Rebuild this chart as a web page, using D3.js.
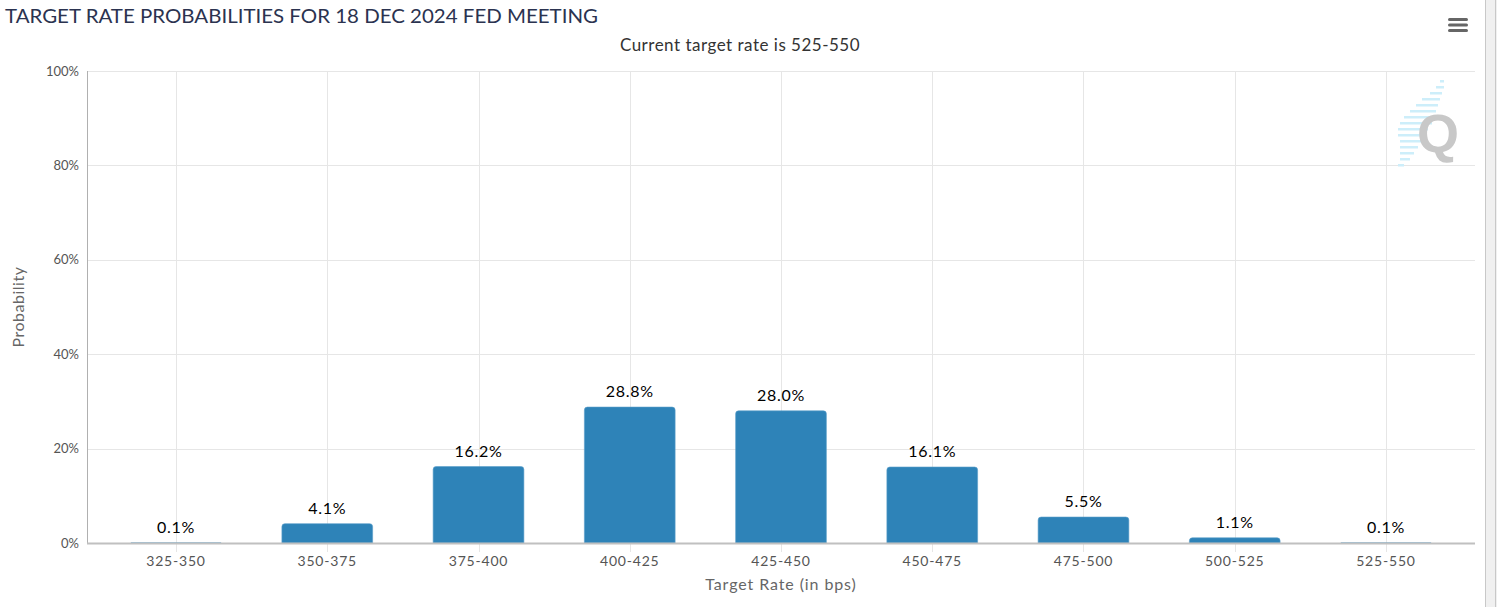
<!DOCTYPE html>
<html>
<head>
<meta charset="utf-8">
<script src="https://cdn.jsdelivr.net/npm/d3@7"></script>
<style>
  html, body { margin: 0; padding: 0; background: #fff; }
  svg { display: block; font-family: Lato, "Open Sans", sans-serif; }
</style>
</head>
<body>
<svg id="chart" width="1497" height="607"></svg>
<script>
'use strict'

const categories = ['325-350', '350-375', '375-400', '400-425', '425-450', '450-475', '475-500', '500-525', '525-550'];
const probabilities = [0.1, 4.1, 16.2, 28.8, 28.0, 16.1, 5.5, 1.1, 0.1];
const yTicks = [0, 20, 40, 60, 80, 100];

const titleText = 'TARGET RATE PROBABILITIES FOR 18 DEC 2024 FED MEETING';
const subtitleText = 'Current target rate is 525-550';

const plot = { left: 87, right: 1475, top: 71, bottom: 543 };

const svg = d3.select('#chart');

const x = d3.scaleBand()
    .domain(categories)
    .range([100.4, 1461.6])
    .paddingInner(0.4)
    .paddingOuter(0.2);

const y = d3.scaleLinear().domain([0, 100]).range([plot.bottom, plot.top]);

// scrollbar strip on the right
svg.append('rect').attr('x', 1485).attr('y', 0).attr('width', 12).attr('height', 607)
    .attr('fill', '#f0f0f0');
svg.append('line').attr('x1', 1485.5).attr('x2', 1485.5).attr('y1', 0).attr('y2', 607)
    .attr('stroke', '#c8c8c8');
svg.append('line').attr('x1', 1495.5).attr('x2', 1495.5).attr('y1', 0).attr('y2', 607)
    .attr('stroke', '#c8c8c8');

// title
svg.append('text').attr('x', 5).attr('y', 23)
    .attr('font-size', 19).attr('fill', '#2b3350')
    .attr('textLength', 593).attr('lengthAdjust', 'spacingAndGlyphs')
    .text(titleText);

svg.append('text').attr('x', 740).attr('y', 51)
    .attr('text-anchor', 'middle').attr('font-size', 17).attr('letter-spacing', 0.5).attr('fill', '#333')
    .text(subtitleText);

// menu icon
svg.append('g').selectAll('rect').data([0, 1, 2]).join('rect')
    .attr('x', 1448).attr('y', d => 18 + d * 5.5).attr('width', 20).attr('height', 3)
    .attr('rx', 1.5).attr('fill', '#666');

// horizontal grid
svg.append('g').selectAll('line').data(yTicks).join('line')
    .attr('x1', plot.left).attr('x2', plot.right)
    .attr('y1', d => Math.round(y(d)) + 0.5).attr('y2', d => Math.round(y(d)) + 0.5)
    .attr('stroke', '#e6e6e6');

// vertical grid at category centers
svg.append('g').selectAll('line').data(categories).join('line')
    .attr('x1', d => Math.round(x(d) + x.bandwidth() / 2) + 0.5)
    .attr('x2', d => Math.round(x(d) + x.bandwidth() / 2) + 0.5)
    .attr('y1', plot.top).attr('y2', plot.bottom + 9)
    .attr('stroke', '#e6e6e6');

// watermark
const wm = svg.append('g').attr('transform', 'translate(1396,80)');
const stripes = [[44, 0, 4], [40, 6, 8], [34, 12, 12], [26, 18, 18], [20, 24, 22], [14, 30, 26],
    [8, 36, 30], [4, 42, 32], [2, 48, 30], [2, 54, 26], [4, 60, 22], [4, 66, 18], [4, 72, 14],
    [4, 78, 10], [2, 84, 6]];
wm.selectAll('rect').data(stripes).join('rect')
    .attr('x', d => d[0]).attr('y', d => d[1]).attr('width', d => d[2]).attr('height', 2.5)
    .attr('fill', '#cdeefa');
wm.append('text').attr('x', 42).attr('y', 72).attr('text-anchor', 'middle')
    .attr('font-size', 54).attr('font-weight', 'bold').attr('fill', '#c8c8c8')
    .attr('font-family', 'Liberation Sans, Arial, sans-serif')
    .text('Q');

// bars
svg.append('g').selectAll('path').data(categories).join('path')
    .attr('d', (d, i) => {
        const x0 = x(d), w = x.bandwidth();
        const y0 = y(probabilities[i]), h = plot.bottom - y0;
        const r = Math.min(3, h);
        return `M${x0},${plot.bottom}V${y0 + r}Q${x0},${y0} ${x0 + r},${y0}H${x0 + w - r}Q${x0 + w},${y0} ${x0 + w},${y0 + r}V${plot.bottom}Z`;
    })
    .attr('fill', '#2e83b8')
    .attr('stroke', (d, i) => plot.bottom - y(probabilities[i]) > 2 ? '#5b9ec9' : 'none')
    .attr('stroke-width', 0.6);

// data labels
svg.append('g').selectAll('text').data(categories).join('text')
    .attr('x', d => x(d) + x.bandwidth() / 2)
    .attr('y', (d, i) => y(probabilities[i]) - 10)
    .attr('text-anchor', 'middle').attr('font-size', 16).attr('letter-spacing', 0.7).attr('fill', '#000')
    .text((d, i) => d3.format('.1f')(probabilities[i]) + '%');

// axis lines
svg.append('line').attr('x1', plot.left + 0.5).attr('x2', plot.left + 0.5)
    .attr('y1', plot.top).attr('y2', plot.bottom)
    .attr('stroke', '#b0b0b0');
svg.append('line').attr('x1', plot.left).attr('x2', plot.right)
    .attr('y1', plot.bottom + 0.5).attr('y2', plot.bottom + 0.5)
    .attr('stroke', '#c0c0c0').attr('stroke-width', 2);

// y tick labels
svg.append('g').selectAll('text').data(yTicks).join('text')
    .attr('x', 79).attr('y', d => y(d) + 4.5)
    .attr('text-anchor', 'end').attr('font-size', 13).attr('fill', '#555')
    .text(d => d + '%');

// x tick labels
svg.append('g').selectAll('text').data(categories).join('text')
    .attr('x', d => x(d) + x.bandwidth() / 2)
    .attr('y', 566)
    .attr('text-anchor', 'middle').attr('font-size', 14).attr('letter-spacing', 0.8).attr('fill', '#555')
    .text(d => d);

// axis titles
svg.append('text').attr('transform', 'translate(24,307) rotate(-90)')
    .attr('text-anchor', 'middle').attr('font-size', 16).attr('letter-spacing', 0.5).attr('fill', '#666')
    .text('Probability');
svg.append('text').attr('x', 781).attr('y', 590)
    .attr('text-anchor', 'middle').attr('font-size', 16).attr('letter-spacing', 0.9).attr('fill', '#666')
    .text('Target Rate (in bps)');
</script>
</body>
</html>
